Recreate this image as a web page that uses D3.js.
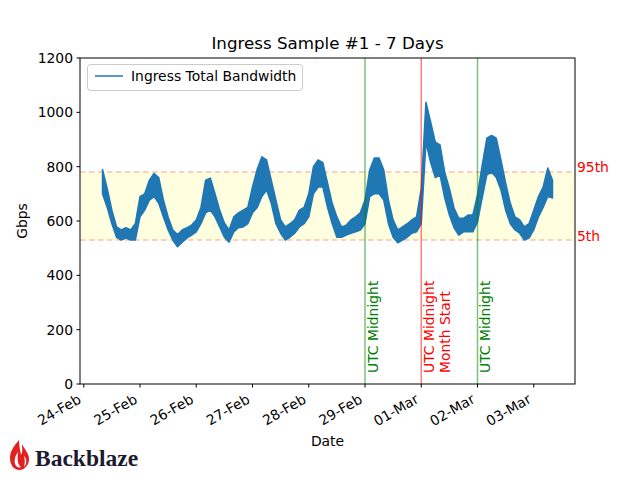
<!DOCTYPE html>
<html><head><meta charset="utf-8">
<script src="https://cdn.jsdelivr.net/npm/d3@7"></script>
<style>body{margin:0;background:#fff}svg{display:block;font-family:"DejaVu Sans",sans-serif}</style>
</head><body>
<svg id="c" width="640" height="480"></svg>
<script>
// ---- data (2-hourly envelope of the noisy ingress series, Gbps) ----
const startTime = "2024-02-24T08:00:00Z";
const stepHours = 2;
const lowValues = [700,650,590,540,530,537,530,530,615,640,677,690,665,615,567,530,505,522,537,548,560,590,630,640,615,578,540,522,560,575,578,590,630,650,690,714,665,590,555,530,540,555,578,590,615,700,725,725,650,590,540,540,548,555,560,567,590,690,700,700,677,590,540,520,530,540,555,560,590,890,815,760,770,685,622,575,548,560,560,560,597,685,770,780,760,714,640,590,567,555,530,537,567,615,650,690,685];
const highValues = [790,720,640,578,567,575,567,590,690,700,750,775,760,677,615,567,550,567,575,585,604,650,750,758,700,640,593,567,615,630,640,650,725,790,836,825,750,677,604,578,590,604,640,650,700,800,825,815,740,665,615,578,585,604,615,630,677,788,832,832,788,677,604,567,578,590,604,615,720,1037,965,890,880,780,720,648,610,610,622,622,696,806,905,915,905,825,740,665,615,604,578,590,640,690,725,795,750];
const pct95 = 780, pct5 = 530;
const markers = [
  {date:"2024-02-29T00:00:00Z", lines:["UTC Midnight"], kind:"green"},
  {date:"2024-03-01T00:00:00Z", lines:["UTC Midnight","Month Start"], kind:"red"},
  {date:"2024-03-02T00:00:00Z", lines:["UTC Midnight"], kind:"green"}
];
const yTicks = [0,200,400,600,800,1000,1200];
const xTickDates = ["2024-02-24","2024-02-25","2024-02-26","2024-02-27","2024-02-28","2024-02-29","2024-03-01","2024-03-02","2024-03-03"];
const seriesName = "Ingress Total Bandwidth";

// ---- build series ----
const t0 = new Date(startTime).getTime();
const H = 3600e3;
const pts = lowValues.map((lo,i)=>({t:new Date(t0 + i*stepHours*H), lo:lo, hi:highValues[i]}));

const tFirst = t0, tLast = t0 + (lowValues.length-1)*stepHours*H;
const span = tLast - tFirst;
const L=80, R=575, T=58, B=384;
const x = d3.scaleUtc().domain([new Date(tFirst-0.05*span), new Date(tLast+0.05*span)]).range([L,R]);
const y = d3.scaleLinear().domain([0,1200]).range([B,T]);

const svg = d3.select("#c");
// shaded percentile band
svg.append("rect").attr("x",L).attr("width",R-L).attr("y",y(pct95)).attr("height",y(pct5)-y(pct95)).attr("fill","#ffffe0");
// percentile dashed lines
[pct95,pct5].forEach(p=>{
  svg.append("line").attr("x1",L).attr("x2",R).attr("y1",y(p)).attr("y2",y(p))
    .attr("stroke","#fa8072").attr("stroke-opacity",0.5).attr("stroke-width",1.5).attr("stroke-dasharray","5.5,3.5");
});
// series drawn as its noisy envelope band
svg.append("path").datum(pts)
  .attr("d", d3.area().x(d=>x(d.t)).y0(d=>y(d.lo)).y1(d=>y(d.hi)))
  .attr("fill","#1f77b4").attr("stroke","#1f77b4").attr("stroke-width",1.5).attr("stroke-linejoin","round");
// markers
markers.forEach(m=>{
  const xd = x(new Date(m.date));
  const col = m.kind==="green" ? "#008000" : "#ff0000";
  svg.append("line").attr("x1",xd).attr("x2",xd).attr("y1",T).attr("y2",B)
    .attr("stroke",col).attr("stroke-opacity",0.5).attr("stroke-width",1.5);
  m.lines.forEach((s,k)=>{
    svg.append("text").attr("transform",`translate(${xd+12.5+k*16.5},${373}) rotate(-90)`)
      .attr("font-size","13.9px").attr("fill",col).text(s);
  });
});
// percentile labels
svg.append("text").attr("x",577).attr("y",y(pct95)).attr("font-size","13.9px").attr("fill","red").text("95th");
svg.append("text").attr("x",577).attr("y",y(pct5)+1).attr("font-size","13.9px").attr("fill","red").text("5th");

// frame
svg.append("rect").attr("x",L).attr("y",T).attr("width",R-L).attr("height",B-T).attr("fill","none").attr("stroke","#000").attr("stroke-width",1);

// y axis
yTicks.forEach(v=>{
  svg.append("line").attr("x1",L-3.5).attr("x2",L).attr("y1",y(v)).attr("y2",y(v)).attr("stroke","#000");
  svg.append("text").attr("x",L-7).attr("y",y(v)).attr("dy","0.36em").attr("text-anchor","end").attr("font-size","13.9px").text(v);
});
// x axis
const fmt = d3.utcFormat("%d-%b");
xTickDates.forEach(ds=>{
  const d = new Date(ds+"T00:00:00Z");
  const xd = x(d);
  svg.append("line").attr("x1",xd).attr("x2",xd).attr("y1",B).attr("y2",B+3.5).attr("stroke","#000");
  svg.append("text").attr("transform",`translate(${xd-1.6},${402}) rotate(-30)`)
    .attr("text-anchor","end").attr("font-size","13.9px").text(fmt(d));
});
// axis labels and title
svg.append("text").attr("x",(L+R)/2).attr("y",446).attr("text-anchor","middle").attr("font-size","13.9px").text("Date");
svg.append("text").attr("transform",`translate(27,${(T+B)/2}) rotate(-90)`).attr("text-anchor","middle").attr("font-size","13.9px").text("Gbps");
svg.append("text").attr("x",(L+R)/2).attr("y",49).attr("text-anchor","middle").attr("font-size","16.7px").text("Ingress Sample #1 - 7 Days");

// legend
const lg = svg.append("g");
lg.append("rect").attr("x",87.5).attr("y",64.5).attr("width",215).attr("height",26).attr("rx",3)
  .attr("fill","#fff").attr("fill-opacity",0.8).attr("stroke","#cccccc");
lg.append("line").attr("x1",95).attr("x2",123).attr("y1",76).attr("y2",76).attr("stroke","#1f77b4").attr("stroke-width",1.5);
lg.append("text").attr("x",131).attr("y",81).attr("font-size","13.9px").text(seriesName);

// logo
const logo = svg.append("g");
logo.append("path").attr("d","M19,440 C14,446 10,451 10,458 C10,465 14,470 19,470 C25,470 29,465 29,459 C29,453 24,449 22,444 C22,449 23,452 21,455 C20,450 19,445 19,440 Z").attr("fill","#e32121");
logo.append("path").attr("d","M18,452 C15,456 14,460 15,464 C16,467 19,468 21,467 C18,465 17,461 18,452 Z").attr("fill","#fff");
logo.append("path").attr("d","M24,456 C27,459 27,464 24,467 C25,463 25,460 24,456 Z").attr("fill","#fff");
logo.append("text").attr("x",35).attr("y",466).attr("font-family","'Liberation Serif',serif").attr("font-weight","bold").attr("font-size","23.5px").attr("fill","#1b1b2f").text("Backblaze");
</script>
</body></html>
